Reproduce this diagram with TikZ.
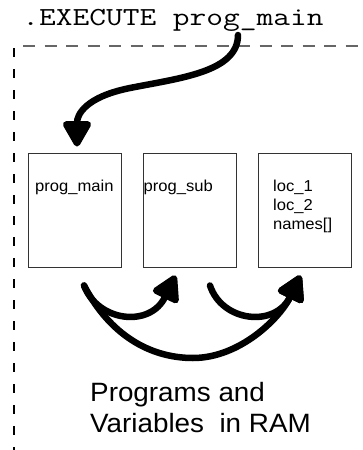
\documentclass[tikz,border=0pt]{standalone}
\usepackage{fontspec}
\usepackage{graphicx}
\usetikzlibrary{arrows.meta,calc}
\newfontfamily\arialx[FakeStretch=1.05]{Liberation Sans}
\definecolor{framegray}{HTML}{666666}
\definecolor{boxgray}{HTML}{333333}
\tikzset{
  boxnode/.style={draw=boxgray, line width=1pt, minimum width=93pt, minimum height=114pt, inner sep=0pt},
  boxtext/.style={anchor=base west, inner sep=0pt, font=\arialx\fontsize{15.8}{19}\selectfont},
  lbltext/.style={anchor=base west, inner sep=0pt, font=\arialx\fontsize{26.5}{31}\selectfont},
  bigarrow/.style={line width=6.5pt, line cap=round, -{Triangle[length=29pt,width=31pt,round]}},
}
\begin{document}
\begin{tikzpicture}[x=1pt,y=-1pt]
\useasboundingbox (0,0) rectangle (362,450);
% title
\node[anchor=base, inner sep=0pt] (title) at (173,25.5)
  {\scalebox{1.25}[1]{\ttfamily\fontsize{26}{30}\selectfont .EXECUTE prog\_main}};
% dashed frame
\coordinate (fcorner) at (14,46);
\coordinate (fright) at (362,46);
\coordinate (fbottom) at (14,450);
\draw[framegray, line width=1.3pt, dash pattern=on 12pt off 9.5pt, dash phase=-9pt] (fcorner) -- (fright);
\draw[black, line width=1.3pt, dash pattern=on 9pt off 12pt, dash phase=-2pt] (fcorner) -- (fbottom);
% boxes
\node[boxnode] (b1) at (74.5,210) {};
\node[boxnode] (b2) at (189.5,210) {};
\node[boxnode] (b3) at (304.5,210) {};
\node[boxtext] (t1) at (35,191) {prog\_main};
\node[boxtext] (t2) at (143.5,191) {prog\_sub};
\node[boxtext] (t3a) at (273,191) {loc\_1};
\node[boxtext] (t3b) at (273,210) {loc\_2};
\node[boxtext] (t3c) at (273,229) {names[]};
% bottom label
\node[lbltext] (lbl1) at (90,401.5) {Programs and};
\node[lbltext] (lbl2) at (90,432.5) {Variables\ \ in RAM};
% arrow from title
\coordinate (s1) at (238,35);
\coordinate (e1) at ($(b1.north)+(2.5,-6)$);
\draw[bigarrow] (s1) .. controls (238,72) and (180,78) .. (130,88)
   .. controls (85,97) and (77,115) .. (e1);
% bottom arrows
\coordinate (sa) at ($(b1.south)+(9.5,18)$);
\coordinate (sb) at ($(b2.south)+(20.5,18)$);
\coordinate (ea) at ($(b2.south)+(-14,8)$);
\coordinate (eb) at ($(b3.south)+(-4,8)$);
\draw[bigarrow] (sa) .. controls (98,322) and (150,328) .. (ea);
\draw[bigarrow] (sb) .. controls (222,322) and (275,328) .. (eb);
\draw[bigarrow] (sa) .. controls (110,335) and (150,358) .. (193,358)
   .. controls (240,358) and (280,318) .. (eb);
\end{tikzpicture}
\end{document}
